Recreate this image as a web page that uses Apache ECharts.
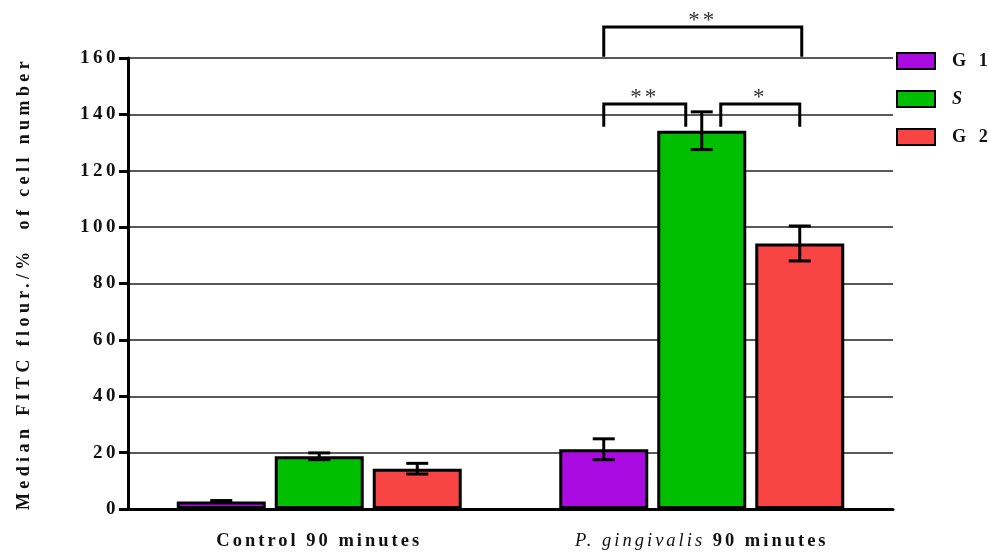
<!DOCTYPE html>
<html>
<head>
<meta charset="utf-8">
<script src="https://cdn.jsdelivr.net/npm/echarts@6/dist/echarts.min.js"></script>
<style>html,body{margin:0;padding:0;background:#fff}#c{width:989px;height:552px}</style>
</head>
<body>
<div id="c"></div>
<script>
const categories = ['Control 90 minutes', 'P. gingivalis 90 minutes'];
const seriesNames = ['G1', 'S', 'G2'];
const g1Values = [2.7, 21.2];
const g1Errors = [0.3, 3.7];
const sValues = [18.7, 134.2];
const sErrors = [1.2, 6.7];
const g2Values = [14.3, 94.2];
const g2Errors = [1.9, 6.2];
const yTicks = [0, 20, 40, 60, 80, 100, 120, 140, 160];
// significance brackets: category index, bar a, bar b, bracket height, leg bottom, label
const brackets = [
  [1, 0, 1, 143.7, 135.6, '**'],
  [1, 1, 2, 143.7, 135.6, '*'],
  [1, 0, 2, 171.0, 160.4, '**']
];

// GraphPad-style letter spacing, keyed by font size (px -> spacing px)
const SPACING = { '19': 3.5, '18': 4.4, '18.5': 3, '18.2': 4, '23': 3 };
(function () {
  const proto = CanvasRenderingContext2D.prototype;
  const desc = Object.getOwnPropertyDescriptor(proto, 'font');
  if (!desc || !('letterSpacing' in proto)) return;
  Object.defineProperty(proto, 'font', {
    configurable: true,
    get: function () { return desc.get.call(this); },
    set: function (v) {
      desc.set.call(this, v);
      const m = /([\d.]+)px/.exec(v);
      const s = m && SPACING[m[1]];
      this.letterSpacing = (s || 0) + 'px';
    }
  });
})();

const colors = ['#A90BE0', '#00BE00', '#F94444'];
const BAR_W = 89;
const GAP = 9;
const FONT = 'Liberation Serif';
const values = [g1Values, sValues, g2Values];
const errors = [g1Errors, sErrors, g2Errors];
const offsetOf = i => (i - 1) * (BAR_W + GAP);

const chart = echarts.init(document.getElementById('c'));

const barSeries = seriesNames.map((n, i) => ({
  name: n,
  type: 'bar',
  data: values[i],
  barWidth: BAR_W,
  barGap: (GAP / BAR_W * 100).toFixed(1) + '%',
  itemStyle: { color: colors[i], borderColor: '#000', borderWidth: 3 },
  z: 2
}));

const errSeries = seriesNames.map((n, i) => ({
  type: 'custom',
  name: n + ' err',
  data: values[i].map((v, k) => [k, v, errors[i][k]]),
  encode: { x: 0, y: 1 },
  z: 5,
  silent: true,
  renderItem: function (params, api) {
    const k = api.value(0), v = api.value(1), e = api.value(2);
    const top = api.coord([k, v + e]);
    const bot = api.coord([k, v - e]);
    const x = top[0] + offsetOf(i);
    const cap = 11;
    const st = { stroke: '#000', lineWidth: 3 };
    return {
      type: 'group',
      children: [
        { type: 'line', shape: { x1: x, y1: top[1], x2: x, y2: bot[1] }, style: st },
        { type: 'line', shape: { x1: x - cap, y1: top[1], x2: x + cap, y2: top[1] }, style: st },
        { type: 'line', shape: { x1: x - cap, y1: bot[1], x2: x + cap, y2: bot[1] }, style: st }
      ]
    };
  }
}));

const bracketSeries = {
  type: 'custom',
  name: 'sig',
  data: brackets.map(b => [b[0], b[3], b[4], b[1], b[2]]),
  encode: { x: 0, y: 1 },
  clip: false,
  silent: true,
  z: 6,
  renderItem: function (params, api) {
    const b = brackets[params.dataIndex];
    const c = api.coord([b[0], b[3]]);
    const legY = api.coord([b[0], b[4]])[1];
    let x1 = c[0] + offsetOf(b[1]);
    let x2 = c[0] + offsetOf(b[2]);
    if (b[2] - b[1] === 1) {
      if (b[1] === 1) x1 += 19; else x2 -= 16;
    } else {
      x2 += 2;
    }
    const st = { stroke: '#000', lineWidth: 3, fill: null };
    return {
      type: 'group',
      children: [
        { type: 'polyline', shape: { points: [[x1, legY], [x1, c[1]], [x2, c[1]], [x2, legY]] }, style: st },
        { type: 'text', style: { text: b[5], x: (x1 + x2) / 2, y: c[1] - 6, align: 'center', verticalAlign: 'middle', fill: '#333', font: '23px ' + FONT } }
      ]
    };
  }
};

chart.setOption({
  animation: false,
  backgroundColor: '#fff',
  grid: { left: 128, right: 96, top: 58, bottom: 42 },
  legend: {
    data: seriesNames,
    orient: 'vertical',
    left: 891,
    top: 45,
    icon: 'rect',
    itemWidth: 38,
    itemHeight: 16,
    itemGap: 16,
    selectedMode: false,
    formatter: n => n === 'S' ? '{i|S}' : n.replace(/(\d)/, ' $1'),
    textStyle: {
      fontFamily: FONT, fontWeight: 'bold', fontSize: 18.2, color: '#111', padding: [0, 0, 0, 12],
      rich: { i: { fontFamily: FONT, fontWeight: 'bold', fontStyle: 'italic', fontSize: 18.2, color: '#111' } }
    }
  },
  xAxis: {
    type: 'category',
    data: categories,
    axisLine: { lineStyle: { color: '#000', width: 3 } },
    axisTick: { alignWithLabel: true, length: 9, lineStyle: { color: '#000', width: 3 } },
    axisLabel: {
      interval: 0,
      hideOverlap: false,
      margin: 21,
      fontFamily: FONT, fontWeight: 'bold', fontSize: 18.5, color: '#111',
      formatter: function (v) {
        if (v.indexOf('P. gingivalis') === 0) return '{it|P. gingivalis} {b|90 minutes}';
        return '{b|' + v + '}';
      },
      rich: {
        b: { fontFamily: FONT, fontWeight: 'bold', fontSize: 18.5, color: '#111' },
        it: { fontFamily: FONT, fontStyle: 'italic', fontWeight: 'normal', fontSize: 18.5, color: '#111' }
      }
    }
  },
  yAxis: {
    type: 'value',
    min: 0,
    max: 160,
    interval: 20,
    name: 'Median FITC flour./%  of cell number',
    nameLocation: 'middle',
    nameGap: 92,
    nameTextStyle: { fontFamily: FONT, fontWeight: 'bold', fontSize: 18, color: '#111' },
    axisLine: { show: true, lineStyle: { color: '#000', width: 3 } },
    axisTick: { show: true, length: 9, lineStyle: { color: '#000', width: 3 } },
    axisLabel: {
      margin: 9,
      fontFamily: FONT, fontWeight: 'bold', fontSize: 19, color: '#111',
      formatter: v => yTicks.indexOf(v) >= 0 ? String(v) : ''
    },
    splitLine: { show: true, lineStyle: { color: '#222', width: 1.5 } }
  },
  series: [...barSeries, ...errSeries, bracketSeries]
});
</script>
</body>
</html>
